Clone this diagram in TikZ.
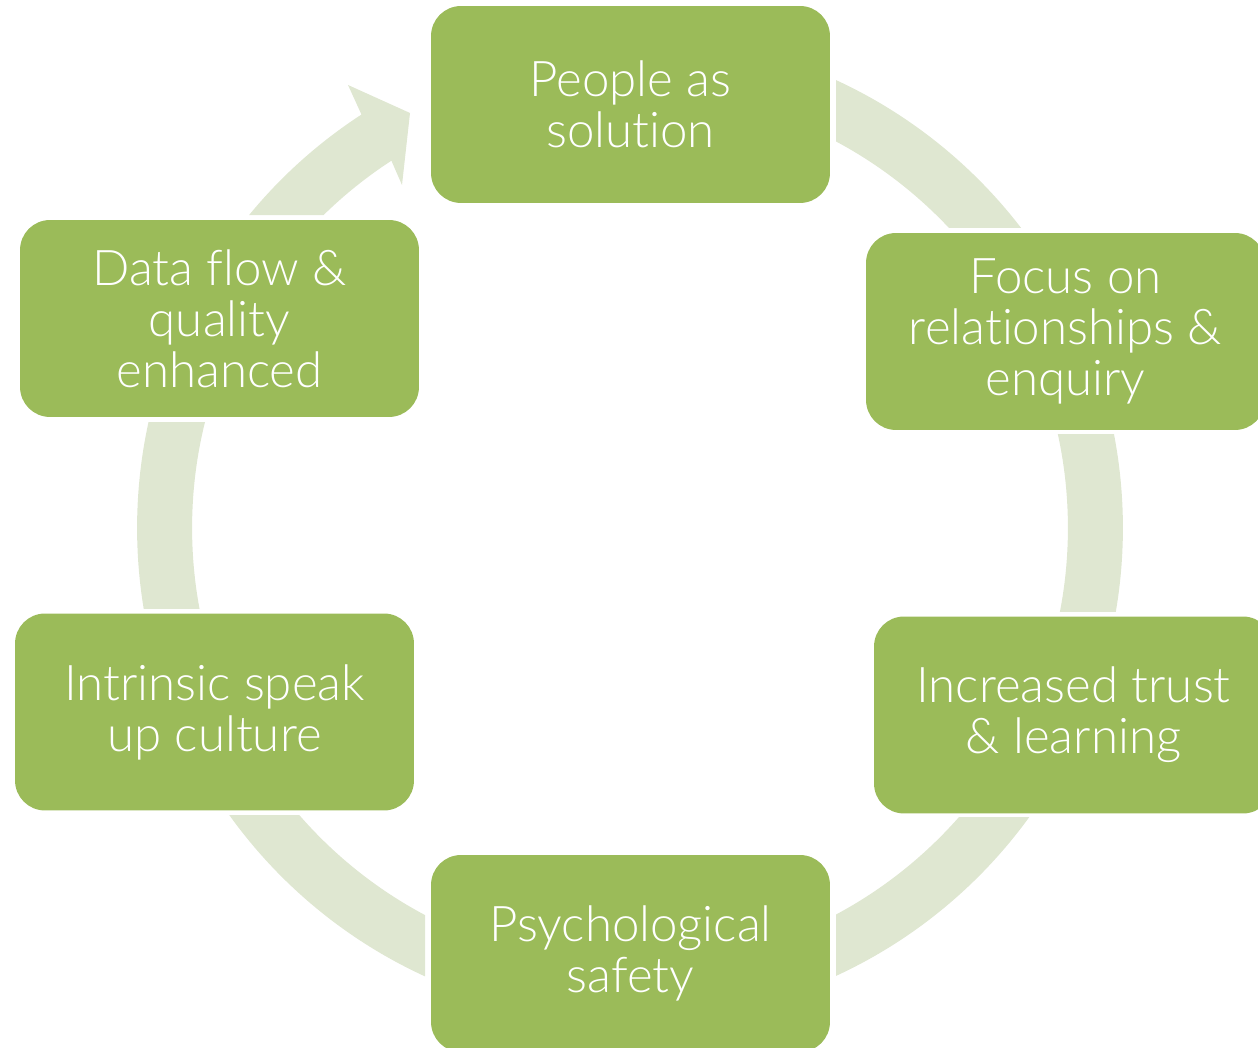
\documentclass[tikz,border=0pt]{standalone}
\usepackage{fontspec}
\setmainfont{Lato}[UprightFont=* Light,Ligatures=CommonOff]
\definecolor{boxgreen}{HTML}{9BBB59}
\definecolor{ringgreen}{HTML}{DFE7D1}

\begin{document}
\begin{tikzpicture}[x=0.02cm,y=0.02cm,
  box/.style={rectangle,rounded corners=0.6cm,fill=boxgreen,text=white,minimum width=7.98cm,minimum height=3.94cm,inner sep=0pt,align=center,font=\fontsize{28}{29}\selectfont},
  ring/.style={draw=ringgreen,line width=1.1cm}]
\useasboundingbox (0,0) rectangle (1258,1048);
\clip (0,0) rectangle (1258,1048);

% pieces of the ring, cut straight next to the boxes
\foreach \xa/\ya/\xb/\yb in {836/820/1258/1048, 900/436/1258/613, 836/0/1258/230, 0/0/425/232, 0/439/400/625}
{
  \begin{scope}
    \clip (\xa,\ya) rectangle (\xb,\yb);
    \draw[ring] (630,520) circle [radius=9.31cm];
  \end{scope}
}
% last piece ends in the arrow head
\fill[ringgreen] (630,520) ++(140.6:493) arc[start angle=140.6,end angle=123,radius=9.86cm]
  -- (348,963) -- (410,935) -- (402,863) -- (391.4,887.3)
  arc[start angle=123,end angle=134.4,radius=8.76cm] -- cycle;

\node[box] (people) at (630.5,943.5) {People as\\solution};
\node[box] (focus) at (1065.5,716.5) {Focus on\\relationships \&\\enquiry};
\node[box] (trust) at (1073.5,333) {Increased trust\\\& learning};
\node[box] (safety) at (630.5,94.5) {Psychological\\safety};
\node[box] (speakup) at (214.5,336) {Intrinsic speak\\up culture};
\node[box] (dataflow) at (219.5,729.5) {Data flow \&\\quality\\enhanced};
\end{tikzpicture}
\end{document}
